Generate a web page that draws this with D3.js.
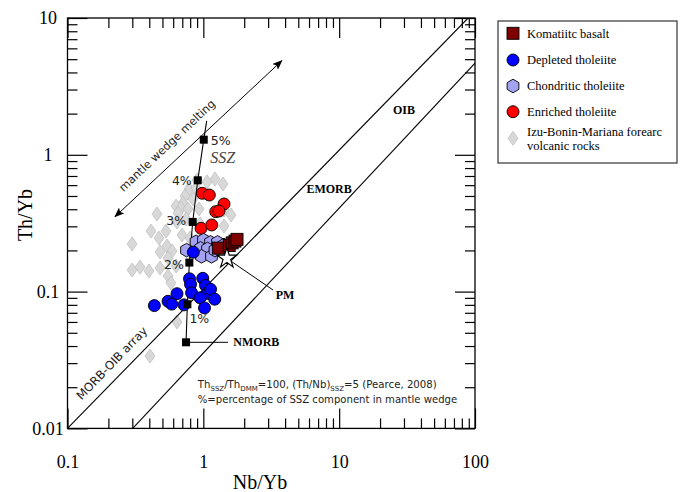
<!DOCTYPE html>
<html>
<head>
<meta charset="utf-8">
<script src="https://cdn.jsdelivr.net/npm/d3@7"></script>
<style>
  html, body { margin: 0; padding: 0; background: #fff; }
  svg { display: block; }
</style>
</head>
<body>
<div id="chart"></div>
<script>
// each point is [Nb/Yb, Th/Yb]
let komatiite = [[1.29, 0.208], [1.55, 0.217], [1.63, 0.227], [1.71, 0.234], [1.77, 0.241]];
let depleted = [[0.844, 0.194], [0.791, 0.124], [0.990, 0.125], [1.038, 0.111], [0.805, 0.113],
                [0.819, 0.098], [1.070, 0.097], [1.130, 0.104], [1.213, 0.088], [0.946, 0.090],
                [0.640, 0.0965], [0.550, 0.085], [0.585, 0.081], [0.436, 0.079], [0.721, 0.080],
                [1.020, 0.076]];
let chondritic = [[0.752, 0.201], [0.876, 0.200], [0.884, 0.231], [1.003, 0.238], [1.130, 0.229],
                  [1.272, 0.229], [0.954, 0.207], [1.074, 0.205], [0.970, 0.181], [1.149, 0.181],
                  [1.420, 0.219], [1.219, 0.201]];
let enriched = [[0.983, 0.523], [1.107, 0.508], [1.420, 0.437], [1.234, 0.384], [1.305, 0.388],
                [0.962, 0.290], [1.153, 0.307]];
let ibm = [[1.219, 0.665], [1.065, 0.633], [1.397, 0.612], [0.899, 0.654], [0.785, 0.562],
           [0.884, 0.572], [0.733, 0.500], [0.840, 0.475], [0.709, 0.444], [0.630, 0.422],
           [0.685, 0.408], [0.771, 0.402], [0.930, 0.402], [0.651, 0.375], [0.746, 0.339],
           [0.640, 0.323], [1.600, 0.363], [1.420, 0.395], [0.456, 0.369], [1.420, 0.302],
           [0.946, 0.312], [0.531, 0.277], [0.412, 0.277], [0.472, 0.246], [0.697, 0.259],
           [0.798, 0.246], [0.299, 0.223], [0.540, 0.215], [0.588, 0.198], [0.480, 0.195],
           [0.550, 0.176], [0.342, 0.151], [0.299, 0.144], [0.398, 0.1415], [0.480, 0.149],
           [0.630, 0.154], [0.550, 0.130], [0.578, 0.1156], [0.640, 0.060], [0.405, 0.0338]];

// SSZ mixing model (NMORB + 1..5 %)
let modelNb = [0.746, 0.763, 0.789, 0.835, 0.910, 1.007];
let modelTh = [0.0426, 0.0808, 0.163, 0.323, 0.651, 1.29];
let modelLabels = ['', '1%', '2%', '3%', '4%', '5%'];
let modelTip = [1.059, 1.77];
let pm = [1.49, 0.175];

// MORB-OIB array boundaries and melting arrow
let arrayUpper = [[0.1, 0.01], [89, 10]];
let arrayLower = [[0.302, 0.01], [100, 4.67]];
let meltArrow = [[0.224, 0.353], [3.78, 4.87]];

let xTicks = [0.1, 1, 10, 100];
let yTicks = [0.01, 0.1, 1, 10];
let legendLabels = ['Komatiitc basalt', 'Depleted tholeiite', 'Chondritic tholeiite', 'Enriched tholeiite',
                    'Izu-Bonin-Mariana forearc', 'volcanic rocks'];

let serif = "'Liberation Serif', 'Times New Roman', serif";
let sans = "'DejaVu Sans', Verdana, sans-serif";

let svg = d3.select('#chart').append('svg')
            .attr('width', 681)
            .attr('height', 492);

let xScale = d3.scaleLog().domain([0.1, 100]).range([67.5, 475]);
let yScale = d3.scaleLog().domain([0.01, 10]).range([428.4, 18]);
let px = d => xScale(d[0]);
let py = d => yScale(d[1]);

svg.append('clipPath').attr('id', 'plotClip')
   .append('rect')
   .attr('x', 67.5).attr('y', 18)
   .attr('width', 475 - 67.5).attr('height', 428.4 - 18);

let defs = svg.append('defs');
defs.append('marker')
    .attr('id', 'head')
    .attr('viewBox', '0 -4 10 8')
    .attr('refX', 9).attr('refY', 0)
    .attr('markerWidth', 10).attr('markerHeight', 8)
    .attr('markerUnits', 'userSpaceOnUse')
    .attr('orient', 'auto-start-reverse')
    .append('path')
    .attr('d', 'M0,-4L10,0L0,4L2,0Z')
    .attr('fill', '#000');

// Ticks, all pointing inward
let minor = xScale.ticks().filter(v => !xTicks.some(t => Math.abs(t - v) < 1e-9));
let minorY = yScale.ticks().filter(v => !yTicks.some(t => Math.abs(t - v) < 1e-9));

function ticks(axis, transform) {
  let g = svg.append('g').attr('transform', transform).call(axis);
  g.select('.domain').remove();
  g.selectAll('line').attr('stroke', '#000').attr('stroke-width', 1.2);
  return g;
}

ticks(d3.axisBottom(xScale).tickValues(xTicks).tickSize(-20).tickFormat(''), 'translate(0,428.4)');
ticks(d3.axisBottom(xScale).tickValues(minor).tickSize(-10).tickFormat(''), 'translate(0,428.4)');
ticks(d3.axisTop(xScale).tickValues(xTicks).tickSize(-20).tickFormat(''), 'translate(0,18)');
ticks(d3.axisTop(xScale).tickValues(minor).tickSize(-10).tickFormat(''), 'translate(0,18)');
ticks(d3.axisLeft(yScale).tickValues(yTicks).tickSize(-20).tickFormat(''), 'translate(67.5,0)');
ticks(d3.axisLeft(yScale).tickValues(minorY).tickSize(-10).tickFormat(''), 'translate(67.5,0)');
ticks(d3.axisRight(yScale).tickValues(yTicks).tickSize(-20).tickFormat(''), 'translate(475,0)');
ticks(d3.axisRight(yScale).tickValues(minorY).tickSize(-10).tickFormat(''), 'translate(475,0)');

// Tick labels
let xLab = ticks(d3.axisBottom(xScale).tickValues(xTicks).tickSize(0).tickPadding(27).tickFormat(d3.format('~g')),
                 'translate(0,428.4)');
xLab.attr('font-family', serif).attr('font-size', 18);
xLab.selectAll('text').attr('fill', '#000');

let yLab = ticks(d3.axisLeft(yScale).tickValues(yTicks).tickSize(0).tickFormat(d3.format('~g')),
                 'translate(67.5,0)');
yLab.attr('font-family', serif).attr('font-size', 18);
yLab.selectAll('text').attr('fill', '#000').attr('text-anchor', 'middle').attr('x', -19.5);

// Axis titles
svg.append('text')
   .attr('x', 260).attr('y', 489)
   .attr('text-anchor', 'middle')
   .attr('font-family', serif).attr('font-size', 20)
   .text('Nb/Yb');
svg.append('text')
   .attr('transform', 'translate(32,215) rotate(-90)')
   .attr('text-anchor', 'middle')
   .attr('font-family', serif).attr('font-size', 20)
   .text('Th/Yb');

let plot = svg.append('g').attr('clip-path', 'url(#plotClip)');
let line = d3.line().x(px).y(py);

// IBM forearc diamonds
plot.selectAll('path.ibm')
    .data(ibm)
    .enter()
    .append('path')
    .attr('class', 'ibm')
    .attr('d', 'M0,-7L5,0L0,7L-5,0Z')
    .attr('transform', d => `translate(${px(d)},${py(d)})`)
    .attr('fill', '#d8d8d8')
    .attr('stroke', '#c0c0c0')
    .attr('stroke-width', 0.8);

// MORB-OIB array
[arrayUpper, arrayLower].forEach(a => {
  plot.append('path').attr('d', line(a))
      .attr('fill', 'none').attr('stroke', '#000').attr('stroke-width', 1.1);
});

// Mantle wedge melting arrow
svg.append('path').attr('d', line(meltArrow))
   .attr('fill', 'none').attr('stroke', '#000').attr('stroke-width', 1)
   .attr('marker-start', 'url(#head)').attr('marker-end', 'url(#head)');

// Model mixing line
let modelPts = modelNb.map((v, i) => [v, modelTh[i]]);
plot.append('path').attr('d', line(modelPts.concat([modelTip])))
    .attr('fill', 'none').attr('stroke', '#000').attr('stroke-width', 1.1);

// NMORB and PM leader lines
plot.append('path').attr('d', line([[0.798, modelTh[0]], [1.52, modelTh[0]]]))
    .attr('stroke', '#000').attr('stroke-width', 1);
plot.append('path').attr('d', line([[1.619, 0.1654], [3.26, 0.1027]]))
    .attr('stroke', '#000').attr('stroke-width', 1);

// Data points
function circles(data, fill) {
  plot.append('g').selectAll('circle')
      .data(data)
      .enter()
      .append('circle')
      .attr('cx', px).attr('cy', py).attr('r', 6)
      .attr('fill', fill).attr('stroke', '#000').attr('stroke-width', 0.9);
}

let hexPath = d3.range(6).map(k => {
  let a = Math.PI / 3 * k - Math.PI / 2;
  return [6.8 * Math.cos(a), 6.8 * Math.sin(a)];
});
let hex = 'M' + hexPath.map(p => p.join(',')).join('L') + 'Z';

circles(enriched, '#ff0000');
plot.append('g').selectAll('path')
    .data(chondritic)
    .enter()
    .append('path')
    .attr('d', hex)
    .attr('transform', d => `translate(${px(d)},${py(d)})`)
    .attr('fill', '#a3a3f2').attr('stroke', '#000').attr('stroke-width', 0.9);
circles(depleted, '#0000ff');
plot.append('g').selectAll('rect')
    .data(komatiite)
    .enter()
    .append('rect')
    .attr('x', d => px(d) - 6).attr('y', d => py(d) - 6)
    .attr('width', 12).attr('height', 12)
    .attr('fill', '#7f0000').attr('stroke', '#000').attr('stroke-width', 0.9);

// Primitive mantle star
plot.append('path')
    .attr('d', d3.symbol().type(d3.symbolStar).size(125)())
    .attr('transform', `translate(${px(pm)},${py(pm)})`)
    .attr('fill', '#fff').attr('stroke', '#000').attr('stroke-width', 1.2);

// Model squares and % labels
plot.selectAll('rect.model')
    .data(modelPts)
    .enter()
    .append('rect')
    .attr('class', 'model')
    .attr('x', d => px(d) - 4).attr('y', d => py(d) - 4)
    .attr('width', 8).attr('height', 8)
    .attr('fill', '#000');

let pctOffset = [[0, 0, 'start'], [2, 14, 'start'], [-5.5, 1.5, 'end'], [-6.5, -1, 'end'], [-6, 0, 'end'], [7, 1, 'start']];
svg.append('g').selectAll('text')
   .data(modelPts)
   .enter()
   .append('text')
   .attr('x', (d, i) => px(d) + pctOffset[i][0])
   .attr('y', (d, i) => py(d) + pctOffset[i][1])
   .attr('dy', '0.36em')
   .attr('text-anchor', (d, i) => pctOffset[i][2])
   .attr('font-family', sans).attr('font-size', 12.5).attr('fill', '#222')
   .text((d, i) => modelLabels[i]);

// Labels in the plot
function label(pos, txt, font, size, opts) {
  let t = svg.append('text')
             .attr('x', xScale(pos[0])).attr('y', yScale(pos[1]))
             .attr('dy', '0.35em')
             .attr('text-anchor', opts.anchor || 'middle')
             .attr('font-family', font).attr('font-size', size)
             .attr('fill', opts.fill || '#000')
             .text(txt);
  if (opts.bold) t.attr('font-weight', 'bold');
  if (opts.italic) t.attr('font-style', 'italic');
  if (opts.rotate) t.attr('transform', `rotate(${opts.rotate},${xScale(pos[0])},${yScale(pos[1])})`);
  return t;
}

label([30.0, 2.13], 'OIB', serif, 12, {bold: true});
label([8.43, 0.562], 'EMORB', serif, 12, {bold: true});
label([4.0, 0.0944], 'PM', serif, 12, {bold: true});
label([1.663, 0.0426], 'NMORB', serif, 12, {bold: true, anchor: 'start'});
label([1.389, 0.964], 'SSZ', serif, 16, {italic: true, fill: '#444'});
label([0.540, 1.17], 'mantle wedge melting', sans, 11.3, {rotate: -43.5, fill: '#222'});
label([0.212, 0.0300], 'MORB-OIB array', sans, 11.8, {rotate: -46, fill: '#222'});

// Model note
let note = svg.append('text')
              .attr('x', xScale(0.91)).attr('y', yScale(0.0197))
              .attr('font-family', sans).attr('font-size', 10.2).attr('fill', '#222');
[['Th', 0], ['SSZ', 1], ['/Th', 0], ['DMM', 1], ['=100, (Th/Nb)', 0], ['SSZ', 1], ['=5 (Pearce, 2008)', 0]]
  .forEach((p, i, a) => {
    let prevSub = i > 0 && a[i - 1][1];
    note.append('tspan')
        .attr('dy', p[1] ? 3 : (prevSub ? -3 : 0))
        .attr('font-size', p[1] ? 7 : 10.2)
        .text(p[0]);
  });
svg.append('text')
   .attr('x', xScale(0.91)).attr('y', yScale(0.01533))
   .attr('font-family', sans).attr('font-size', 10.1).attr('fill', '#222')
   .text('%=percentage of SSZ component in mantle wedge');

// Frame
svg.append('rect')
   .attr('x', 67.5).attr('y', 18)
   .attr('width', 475 - 67.5).attr('height', 428.4 - 18)
   .attr('fill', 'none').attr('stroke', '#000').attr('stroke-width', 1.3);

// Legend
let legend = svg.append('g');
legend.append('rect')
      .attr('x', 498).attr('y', 21).attr('width', 179).attr('height', 142)
      .attr('fill', '#fff').attr('stroke', '#333').attr('stroke-width', 1.2);
let rowY = [33.3, 60, 86, 111.7, 138.3];
legend.append('rect').attr('x', 507).attr('y', rowY[0] - 6).attr('width', 12).attr('height', 12)
      .attr('fill', '#7f0000').attr('stroke', '#000').attr('stroke-width', 0.9);
legend.append('circle').attr('cx', 513).attr('cy', rowY[1]).attr('r', 6)
      .attr('fill', '#0000ff').attr('stroke', '#000').attr('stroke-width', 0.9);
legend.append('path').attr('d', hex).attr('transform', `translate(513,${rowY[2]})`)
      .attr('fill', '#a3a3f2').attr('stroke', '#000').attr('stroke-width', 0.9);
legend.append('circle').attr('cx', 513).attr('cy', rowY[3]).attr('r', 6)
      .attr('fill', '#ff0000').attr('stroke', '#000').attr('stroke-width', 0.9);
legend.append('path').attr('d', 'M0,-7L5,0L0,7L-5,0Z').attr('transform', `translate(513,${rowY[4]})`)
      .attr('fill', '#d8d8d8').attr('stroke', '#c0c0c0').attr('stroke-width', 0.8);
legend.selectAll('text')
      .data(legendLabels)
      .enter()
      .append('text')
      .attr('x', 527)
      .attr('y', (d, i) => i < 4 ? rowY[i] : rowY[4] + (i - 4.5) * 14)
      .attr('dy', '0.35em')
      .attr('font-family', serif).attr('font-size', 12.5)
      .text(d => d);
</script>
</body>
</html>
